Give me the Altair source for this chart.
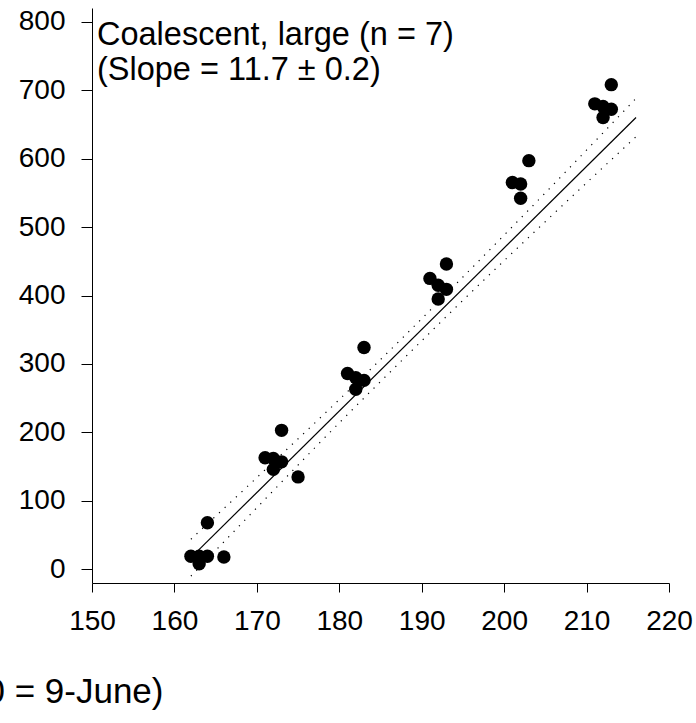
import altair as alt
import pandas as pd

# Observations (day of year, value)
day = [162, 163, 164, 163, 166, 164,
       171, 172, 172, 173, 173, 175,
       181, 182, 182, 183, 183,
       191, 192, 192, 193, 193,
       201, 202, 202, 203,
       211, 212, 212, 213, 213]
value = [19, 19, 19, 8, 18, 68,
         163, 162, 146, 203, 157, 135,
         286, 280, 263, 324, 276,
         425, 415, 395, 446, 409,
         565, 563, 542, 597,
         680, 676, 660, 708, 672]

# Fitted regression line
fit_day = [162, 216]
fit_value = [17, 660]

# Confidence band
band_day = [162, 170, 180, 188, 195, 205, 216]
band_upper = [44, 134, 248, 342, 427, 550, 688]
band_lower = [-10, 90, 214, 310, 393, 508, 632]

x_ticks = [150, 160, 170, 180, 190, 200, 210, 220]
y_ticks = [0, 100, 200, 300, 400, 500, 600, 700, 800]

FONT = "Liberation Sans"

pts = pd.DataFrame({"day": day, "value": value})
fit = pd.DataFrame({"day": fit_day, "value": fit_value})
band = pd.DataFrame({
    "day": band_day * 2,
    "value": band_upper + band_lower,
    "side": ["upper"] * len(band_day) + ["lower"] * len(band_day),
})

x_scale = alt.Scale(domain=[150, 220], nice=False, zero=False)
y_scale = alt.Scale(domain=[-20, 820], nice=False, zero=False)

x_axis = alt.Axis(
    values=x_ticks, grid=False, format="d", labelFlush=False, labelOverlap=False,
    labelFont=FONT, labelFontSize=28, labelColor="black", labelPadding=15,
    tickColor="black", tickSize=9, domainColor="black",
    title="Day of year (160 = 9-June)", titleFont=FONT, titleFontSize=35,
    titleFontWeight="normal", titleColor="black",
    titleX=71, titleY=119, titleAlign="right", titleBaseline="alphabetic",
)
y_axis = alt.Axis(
    values=y_ticks, grid=False, format="d", labelFlush=False, labelOverlap=False,
    labelFont=FONT, labelFontSize=28, labelColor="black", labelPadding=16,
    tickColor="black", tickSize=11, domainColor="black", title=None,
)

points = alt.Chart(pts).mark_circle(size=180, color="black", opacity=1).encode(
    x=alt.X("day:Q", scale=x_scale, axis=x_axis),
    y=alt.Y("value:Q", scale=y_scale, axis=y_axis),
)

line = alt.Chart(fit).mark_line(color="black", strokeWidth=1.2).encode(
    x=alt.X("day:Q", scale=x_scale),
    y=alt.Y("value:Q", scale=y_scale),
)

dots = alt.Chart(band).mark_line(
    color="black", strokeWidth=1.2, strokeDash=[1.2, 6.5], interpolate="monotone"
).encode(
    x=alt.X("day:Q", scale=x_scale),
    y=alt.Y("value:Q", scale=y_scale),
    detail="side:N",
)

label = alt.Chart(pd.DataFrame({"a": [0]})).mark_text(
    align="left", baseline="alphabetic", font=FONT, fontSize=32.5,
    color="black", lineHeight=35,
).encode(
    x=alt.value(5), y=alt.value(37),
    text=alt.value(["Coalescent, large (n = 7)", "(Slope = 11.7 \u00b1 0.2)"]),
)

chart = alt.layer(dots, line, points, label).properties(
    width=577, height=575,
    autosize=alt.AutoSizeParams(type="none"),
    padding={"left": 92, "top": 8, "right": 27, "bottom": 140},
    background="white",
).configure_view(stroke=None)

chart.save("out.html", embed_options={"renderer": "svg", "actions": False})
